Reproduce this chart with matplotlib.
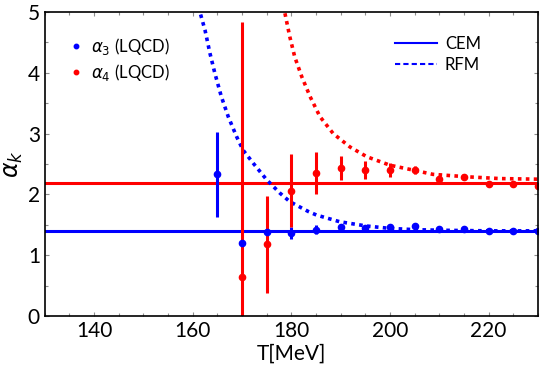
import matplotlib
matplotlib.use('Agg')
import matplotlib.pyplot as plt
from matplotlib.lines import Line2D
from matplotlib.ticker import MultipleLocator

plt.rcParams['font.family'] = ['Lato', 'DejaVu Sans']
plt.rcParams['mathtext.fontset'] = 'dejavusans'

# lattice QCD points
T = [165, 170, 175, 180, 185, 190, 195, 200, 205, 210, 215, 220, 225, 230]
a3 = [2.33, 1.20, 1.38, 1.36, 1.42, 1.47, 1.45, 1.46, 1.48, 1.43, 1.43, 1.40, 1.40, 1.40]
a3_err = [0.70, 0.04, 0.04, 0.10, 0.07, 0.05, 0.04, 0.03, 0.03, 0.02, 0.02, 0.02, 0.02, 0.02]
T4 = [170, 175, 180, 185, 190, 195, 200, 205, 210, 215, 220, 225, 230]
a4 = [0.64, 1.18, 2.06, 2.35, 2.43, 2.40, 2.40, 2.40, 2.26, 2.28, 2.17, 2.17, 2.14]
a4_err = [4.19, 0.80, 0.60, 0.35, 0.20, 0.15, 0.12, 0.06, 0.04, 0.04, 0.03, 0.03, 0.03]

# CEM constants
cem3 = 1.39
cem4 = 2.19

# RFM curves
rfm3_T = [161.6, 162.5, 163.5, 164.5, 165.8, 167.2, 168.9, 170.2, 172.3, 175.0, 177.7,
          179.7, 183.4, 185.1, 189.8, 195.2, 200, 205, 210, 220, 230]
rfm3 = [4.96, 4.70, 4.32, 3.99, 3.61, 3.28, 2.95, 2.73, 2.51, 2.24, 2.02,
        1.88, 1.72, 1.66, 1.55, 1.48, 1.44, 1.42, 1.41, 1.40, 1.40]
rfm4_T = [178.7, 179.7, 180.7, 182.1, 183.8, 185.8, 188.5, 191.9, 195.3, 200, 204.7,
          208.7, 215.5, 222.3, 230]
rfm4 = [4.98, 4.59, 4.26, 3.94, 3.61, 3.28, 3.00, 2.78, 2.62, 2.48, 2.40,
        2.33, 2.29, 2.26, 2.25]

fig = plt.figure(figsize=(5.4, 3.77), dpi=100)
ax = fig.add_axes([0.083, 0.162, 0.913, 0.806])

ax.axhline(cem3, color='blue', lw=2.2)
ax.axhline(cem4, color='red', lw=2.2)
ax.plot(rfm3_T, rfm3, color='blue', lw=2.6, ls=(0, (1, 1.2)))
ax.plot(rfm4_T, rfm4, color='red', lw=2.6, ls=(0, (1, 1.2)))

ax.errorbar(T, a3, yerr=a3_err, fmt='o', color='blue', ms=4.5, elinewidth=2.2, capsize=0)
ax.errorbar(T4, a4, yerr=a4_err, fmt='o', color='red', ms=4.5, elinewidth=2.2, capsize=0)

ax.set_xlim(130, 230)
ax.set_ylim(0, 5)
ax.xaxis.set_major_locator(MultipleLocator(20))
ax.xaxis.set_minor_locator(MultipleLocator(5))
ax.yaxis.set_major_locator(MultipleLocator(1))
ax.yaxis.set_minor_locator(MultipleLocator(0.5))
ax.tick_params(which='both', direction='in', top=True, right=True, color='0.55',
               labelsize=15, length=3, width=0.8)
ax.tick_params(which='minor', length=2)
for s in ax.spines.values():
    s.set_linewidth(1.2)
ax.set_xlabel('T[MeV]', fontsize=15, labelpad=2)
ax.set_ylabel(r'$\alpha_k$', fontsize=17, labelpad=2)

h1 = [Line2D([], [], color='blue', marker='o', ls='none', ms=3.2),
      Line2D([], [], color='red', marker='o', ls='none', ms=3.2)]
leg1 = ax.legend(h1, [r'$\alpha_3$ (LQCD)', r'$\alpha_4$ (LQCD)'], loc='upper left',
                 bbox_to_anchor=(0.02, 0.97), frameon=False, fontsize=12,
                 handlelength=0.8, handletextpad=0.5, labelspacing=0.3)
ax.add_artist(leg1)
h2 = [Line2D([], [], color='blue', lw=1.5),
      Line2D([], [], color='blue', lw=1.5, ls=(0, (2.5, 1.5)))]
ax.legend(h2, ['CEM', 'RFM'], loc='upper right', bbox_to_anchor=(0.915, 0.97),
          frameon=False, fontsize=12, handlelength=2.5, handletextpad=0.5,
          labelspacing=0.3)

fig.savefig('out.png', dpi=100)
